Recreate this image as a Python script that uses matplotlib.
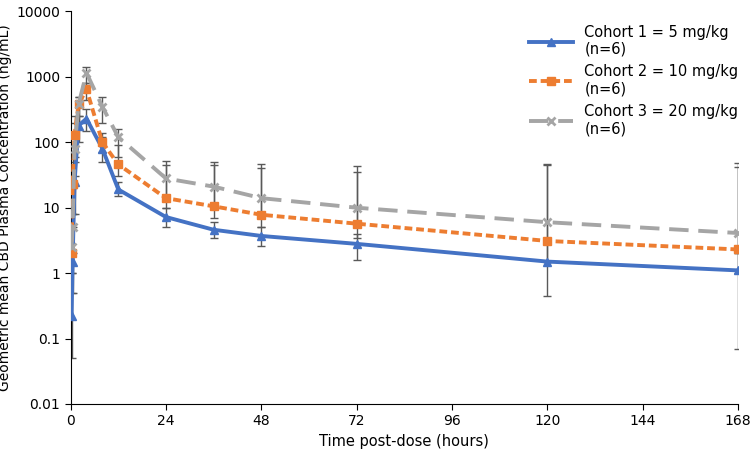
import matplotlib.pyplot as plt
import numpy as np

t = [0.25, 0.5, 1, 2, 4, 8, 12, 24, 36, 48, 72, 120, 168]
c1 = [0.22, 1.5, 25, 180, 230, 80, 19, 7.2, 4.6, 3.7, 2.8, 1.5, 1.1]
c2 = [2.0, 23, 130, 380, 650, 100, 46, 14, 10.5, 7.8, 5.7, 3.1, 2.3]
c3 = [2.5, 5, 80, 380, 1150, 350, 120, 28, 21, 14, 10, 6, 4.1]
c1_lo = [0.05, 0.5, 8, 100, 150, 50, 15, 5, 3.4, 2.6, 1.6, 0.45, 0.07]
c1_hi = [0.5, 5, 60, 250, 320, 120, 25, 10, 6, 5, 4, 3, 2]
c3_lo = [1, 2, 30, 200, 800, 200, 60, 15, 10, 7, 5, 3, 2]
c3_hi = [8, 20, 250, 500, 1400, 500, 160, 52, 50, 46, 43, 47, 48]
c2_lo = [1, 8, 50, 250, 450, 70, 30, 10, 7, 5, 3.5, 1.5, 1]
c2_hi = [5, 60, 200, 500, 800, 140, 90, 45, 45, 40, 35, 45, 42]

fig, ax = plt.subplots(figsize=(7.51, 4.58), dpi=100)
fig.subplots_adjust(left=0.094, right=0.983, bottom=0.118, top=0.975)
series = [(c1, c1_lo, c1_hi, '#4472C4', '-', '^', 'Cohort 1 = 5 mg/kg\n(n=6)'),
          (c2, c2_lo, c2_hi, '#ED7D31', (0, (2, 1)), 's', 'Cohort 2 = 10 mg/kg\n(n=6)'),
          (c3, c3_lo, c3_hi, '#A5A5A5', (0, (5, 2.5)), 'x', 'Cohort 3 = 20 mg/kg\n(n=6)')]
for v, lo, hi, col, ls, mk, lab in series:
    v = np.array(v)
    ax.errorbar(t, v, yerr=[v - np.array(lo), np.array(hi) - v], fmt='none',
                ecolor='#595959', elinewidth=1, capsize=3, zorder=1)
for v, lo, hi, col, ls, mk, lab in series:
    ax.plot(t, v, color=col, linestyle=ls, linewidth=2.8, marker=mk, markersize=6,
            markeredgewidth=2 if mk == 'x' else 1, label=lab, zorder=3)
ax.set_yscale('log')
ax.set_ylim(0.01, 10000)
ax.set_xlim(0, 168)
ax.set_xticks(range(0, 169, 24))
ax.set_yticks([0.01, 0.1, 1, 10, 100, 1000, 10000])
ax.set_yticklabels(['0.01', '0.1', '1', '10', '100', '1000', '10000'])
ax.minorticks_off()
for s in ['top', 'right']:
    ax.spines[s].set_visible(False)
ax.tick_params(labelsize=10, color='black', length=4)
ax.set_xlabel('Time post-dose (hours)', fontsize=10.5)
ax.set_ylabel('Geometric mean CBD Plasma Concentration (ng/mL)', fontsize=10, labelpad=3)
ax.legend(loc='upper right', frameon=False, fontsize=10.5, handlelength=3,
          bbox_to_anchor=(1.02, 1.0), markerscale=0.9)
fig.savefig('out.png')
